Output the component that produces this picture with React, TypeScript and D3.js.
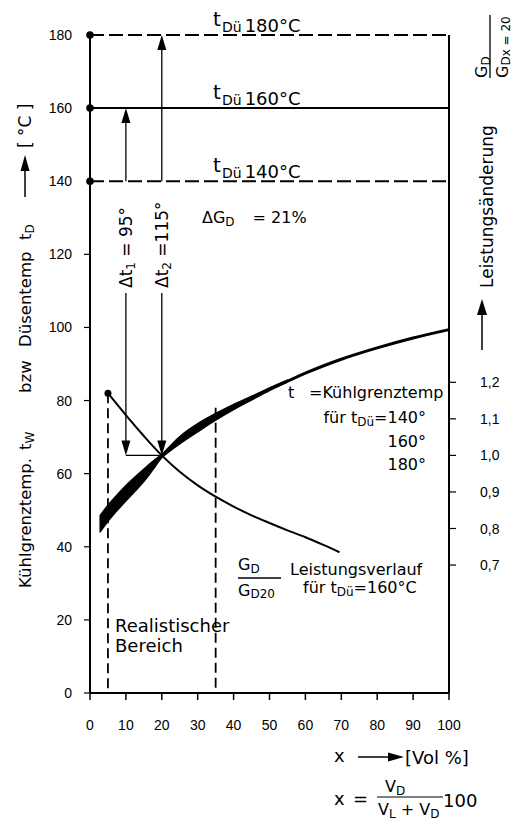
import React from 'react';
import * as d3 from 'd3';

// ---- data ----
const xTicks = [0, 10, 20, 30, 40, 50, 60, 70, 80, 90, 100];
const yTicks = [0, 20, 40, 60, 80, 100, 120, 140, 160, 180];
const yTickLabels = ['0', '20', '40', '60', '80', '100', '120', '140', '160', '180'];
const rightTicks = [0.7, 0.8, 0.9, 1.0, 1.1, 1.2];
const rightTickLabels = ['0,7', '0,8', '0,9', '1,0', '1,1', '1,2'];
const tDueLevels = [140, 160, 180];
const tDueDashed = [true, false, true];

// Kühlgrenztemperatur band (t_Dü = 140/160/180 °C)
const bandX = [2.8, 5, 7.5, 10, 12.5, 15, 17.5, 20, 22.5, 25, 30, 35, 40, 45, 50, 55];
const bandUpper = [48.6, 51.4, 54.2, 56.8, 59.1, 61.3, 63.4, 65.3, 67.8, 70.2, 73.7, 76.5, 79.0, 81.2, 83.5, 85.6];
const bandLower = [44.0, 46.9, 49.8, 52.5, 55.1, 57.8, 61.0, 64.3, 66.3, 68.1, 71.4, 74.6, 77.5, 80.1, 82.7, 85.0];
const kuehlX = [50, 55, 60, 70, 80, 90, 100];
const kuehlY = [83.1, 85.3, 87.5, 91.3, 94.4, 97.1, 99.4];

// Leistungsverlauf G_D / G_D20 (right axis)
const leistX = [5, 10, 15, 20, 25, 30, 35, 40, 45, 50, 55, 60, 65, 69.5];
const leistY = [1.17, 1.11, 1.053, 1.0, 0.955, 0.918, 0.887, 0.86, 0.836, 0.815, 0.795, 0.776, 0.755, 0.735];

// realistic range bounds and their top values
const realX = [5, 35];
const realTop = [82, 78];

// Δt arrows
const deltaX = [10, 20];
const deltaFrom = [160, 180];
const deltaTo = 65;

const FONT = '"DejaVu Sans", sans-serif';
const TICKFONT = '"Liberation Sans", Arial, sans-serif';

function head(tx: number, ty: number, dir: 'up' | 'down' | 'right', len = 15, hw = 4.5) {
  if (dir === 'up') return `${tx},${ty} ${tx - hw},${ty + len} ${tx + hw},${ty + len}`;
  if (dir === 'down') return `${tx},${ty} ${tx - hw},${ty - len} ${tx + hw},${ty - len}`;
  return `${tx},${ty} ${tx - len},${ty - hw} ${tx - len},${ty + hw}`;
}

export default function App() {
  const W = 513, H = 821;
  const x = d3.scaleLinear().domain([0, 100]).range([90, 449]);
  const y = d3.scaleLinear().domain([0, 180]).range([693, 35]);
  const yR = d3.scaleLinear().domain([0.35, 2.15]).range([693, 35]);

  const bandData = bandX.map((v, i) => ({ x: v, lo: bandLower[i], hi: bandUpper[i] }));
  const bandPath = d3.area<any>()
    .x(d => x(d.x)).y0(d => y(d.lo)).y1(d => y(d.hi))
    .curve(d3.curveCatmullRom.alpha(0.5))(bandData) || '';
  const kuehlPath = d3.line<number>()
    .x((_, i) => x(kuehlX[i])).y(d => y(d))
    .curve(d3.curveCatmullRom.alpha(0.5))(kuehlY) || '';
  const leistPath = d3.line<number>()
    .x((_, i) => x(leistX[i])).y(d => yR(d))
    .curve(d3.curveCatmullRom.alpha(0.5))(leistY) || '';

  const x0 = x(0), x1 = x(100), y0 = y(0), yTop = y(180);

  return (
    <svg width={W} height={H} style={{ position: 'absolute', left: 0, top: 0, background: '#fff' }}
      fontFamily={FONT}>
      <rect width={W} height={H} fill="#fff" />

      {/* horizontal t_Dü lines */}
      {tDueLevels.map((lv, i) => (
        <g key={lv}>
          <line x1={x0} x2={x1} y1={y(lv)} y2={y(lv)} stroke="#000" strokeWidth={2}
            strokeDasharray={tDueDashed[i] ? '14,5' : undefined} />
          <circle cx={x0} cy={y(lv)} r={3.8} fill="#000" />
          <text x={213} y={y(lv) - 9} fontSize={20}>t</text>
          <text x={222} y={y(lv) - 3}>
            <tspan fontSize={14}>Dü</tspan>
            <tspan fontSize={18} dx={3}>{lv}°C</tspan>
          </text>
        </g>
      ))}

      {/* axes */}
      <line x1={x0} x2={x0} y1={yTop} y2={y0} stroke="#000" strokeWidth={2} />
      <line x1={x1} x2={x1} y1={yTop} y2={y0} stroke="#000" strokeWidth={2} />
      <line x1={x0} x2={x1} y1={y0} y2={y0} stroke="#000" strokeWidth={2} />
      {yTicks.map((t, i) => (
        <g key={t}>
          {t < 140 && <line x1={x0 - 6} x2={x0} y1={y(t)} y2={y(t)} stroke="#000" strokeWidth={1.2} />}
          <text x={72} y={y(t)} dy="0.36em" textAnchor="end" fontSize={14} fontFamily={TICKFONT}>{yTickLabels[i]}</text>
        </g>
      ))}
      {xTicks.map(t => (
        <g key={t}>
          <line x1={x(t)} x2={x(t)} y1={y0} y2={y0 + 7} stroke="#000" strokeWidth={1.5} />
          <text x={x(t)} y={730} textAnchor="middle" fontSize={14} fontFamily={TICKFONT}>{t}</text>
        </g>
      ))}
      {rightTicks.map((t, i) => (
        <g key={t}>
          <line x1={x1} x2={x1 + 7} y1={yR(t)} y2={yR(t)} stroke="#000" strokeWidth={1.2} />
          <text x={480} y={yR(t)} dy="0.36em" fontSize={14} fontFamily={TICKFONT}>{rightTickLabels[i]}</text>
        </g>
      ))}

      {/* realistic range */}
      {realX.map((v, i) => (
        <line key={v} x1={x(v)} x2={x(v)} y1={y(realTop[i])} y2={y0} stroke="#000" strokeWidth={1.8}
          strokeDasharray="10,5" />
      ))}

      {/* Kühlgrenztemp band & line */}
      <path d={bandPath} fill="#000" stroke="#000" strokeWidth={1.2} strokeLinejoin="round" />
      <path d={kuehlPath} fill="none" stroke="#000" strokeWidth={3} />

      {/* Leistungsverlauf */}
      <path d={leistPath} fill="none" stroke="#000" strokeWidth={2} />
      <circle cx={x(leistX[0])} cy={yR(leistY[0])} r={3.5} fill="#000" />

      {/* Δt arrows */}
      {deltaX.map((v, i) => (
        <g key={v}>
          <line x1={x(v)} x2={x(v)} y1={y(140)} y2={y(deltaFrom[i]) + 10} stroke="#000" strokeWidth={1.3} />
          <polygon points={head(x(v), y(deltaFrom[i]), 'up')} fill="#000" />
          <line x1={x(v)} x2={x(v)} y1={293} y2={y(deltaTo) - 10} stroke="#000" strokeWidth={1.3} />
          <polygon points={head(x(v), y(deltaTo), 'down')} fill="#000" />
        </g>
      ))}
      <line x1={x(deltaX[0])} x2={x(deltaX[1])} y1={y(deltaTo)} y2={y(deltaTo)} stroke="#000" strokeWidth={1.3} />
      <g transform={`translate(${x(deltaX[0]) + 6}, 288) rotate(-90)`}>
        <text x={0} y={0} fontSize={17}>Δt<tspan fontSize={12} dy={3}>1</tspan><tspan dy={-3}> = 95°</tspan></text>
      </g>
      <g transform={`translate(${x(deltaX[1]) + 6}, 288) rotate(-90)`}>
        <text x={0} y={0} fontSize={17}>Δt<tspan fontSize={12} dy={3}>2</tspan><tspan dy={-3}> =115°</tspan></text>
      </g>

      <text x={202} y={223} fontSize={16}>ΔG<tspan fontSize={12} dy={3}>D</tspan><tspan dy={-3} dx={18}>= 21%</tspan></text>

      {/* right annotations */}
      <text x={288} y={398} fontSize={16}>t</text>
      <text x={309} y={398} fontSize={16}>=Kühlgrenztemp</text>
      <text x={426} y={423} fontSize={16} textAnchor="end">für t<tspan fontSize={12} dy={3}>Dü</tspan><tspan dy={-3}>=140°</tspan></text>
      <text x={426} y={447} fontSize={16} textAnchor="end">160°</text>
      <text x={426} y={470} fontSize={16} textAnchor="end">180°</text>

      <text x={238} y={570} fontSize={16}>G<tspan fontSize={12} dy={3}>D</tspan></text>
      <line x1={238} x2={281} y1={578} y2={578} stroke="#000" strokeWidth={1.3} />
      <text x={238} y={596} fontSize={16}>G<tspan fontSize={12} dy={2}>D20</tspan></text>
      <text x={290} y={575} fontSize={16}>Leistungsverlauf</text>
      <text x={303} y={593} fontSize={16}>für t<tspan fontSize={12} dy={3}>Dü</tspan><tspan dy={-3}>=160°C</tspan></text>

      <text x={115} y={632} fontSize={18}>Realistischer</text>
      <text x={115} y={652} fontSize={18}>Bereich</text>

      {/* left axis title */}
      <g transform="translate(31, 588) rotate(-90)">
        <text x={0} y={0} fontSize={16.5}>Kühlgrenztemp.</text>
        <text x={138} y={0} fontSize={16.5}>t<tspan fontSize={12} dy={3}>W</tspan></text>
        <text x={195} y={0} fontSize={16.5}>bzw</text>
        <text x={241} y={0} fontSize={16.5}>Düsentemp</text>
        <text x={348} y={0} fontSize={16.5}>t<tspan fontSize={12} dy={3}>D</tspan></text>
        <line x1={391} x2={420} y1={-6} y2={-6} stroke="#000" strokeWidth={1.5} />
        <polygon points={head(433, -6, 'right', 16, 4.5)} fill="#000" />
        <text x={440} y={0} fontSize={17}>[ °C ]</text>
      </g>

      {/* right axis title */}
      <g transform="translate(0, 78) rotate(-90)">
        <text x={0} y={487} fontSize={16}>G<tspan fontSize={12} dy={3}>D</tspan></text>
        <line x1={0} x2={63} y1={490} y2={490} stroke="#000" strokeWidth={1.3} />
        <text x={0} y={508} fontSize={16}>G<tspan fontSize={12} dy={2}>Dx = 20</tspan></text>
      </g>
      <g transform="translate(493, 288) rotate(-90)">
        <text x={0} y={0} fontSize={17}>Leistungsänderung</text>
      </g>
      <line x1={482} x2={482} y1={350} y2={312} stroke="#000" strokeWidth={1.5} />
      <polygon points={head(482, 299, 'up', 16, 5)} fill="#000" />

      {/* x axis title & formula */}
      <text x={334} y={762} fontSize={18}>x</text>
      <line x1={358} x2={392} y1={757} y2={757} stroke="#000" strokeWidth={1.5} />
      <polygon points={head(404, 757, 'right', 16, 4.5)} fill="#000" />
      <text x={405} y={764} fontSize={18}>[Vol %]</text>

      <text x={334} y={805} fontSize={18}>x</text>
      <text x={353} y={805} fontSize={18}>=</text>
      <text x={385} y={792} fontSize={16}>V<tspan fontSize={12} dy={3}>D</tspan></text>
      <line x1={377} x2={443} y1={797} y2={797} stroke="#000" strokeWidth={1.2} />
      <text x={378} y={815} fontSize={16}>V<tspan fontSize={12} dy={3}>L</tspan><tspan dy={-3}> + V</tspan><tspan fontSize={12} dy={3}>D</tspan></text>
      <text x={443} y={807} fontSize={18}>100</text>
    </svg>
  );
}
